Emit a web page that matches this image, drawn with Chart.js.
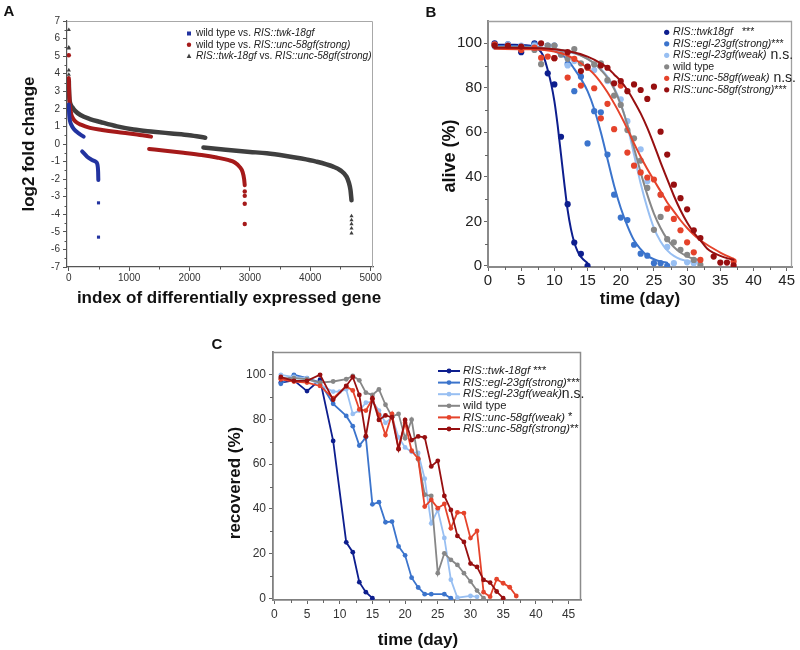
<!DOCTYPE html>
<html><head><meta charset="utf-8">
<script src="https://cdn.jsdelivr.net/npm/chart.js@4.4.1/dist/chart.umd.min.js"></script>
<style>
html,body{margin:0;padding:0;background:#fff;}
#wrap{position:relative;width:800px;height:650px;overflow:hidden;background:#fff;}
canvas{position:absolute;}
</style></head><body>
<div id="wrap">
<canvas id="cA" width="400" height="320" style="left:0;top:0"></canvas>
<canvas id="cB" width="400" height="320" style="left:400px;top:0"></canvas>
<canvas id="cC" width="400" height="330" style="left:200px;top:320px"></canvas>
</div>
<script>
// ---------------- Panel A data ----------------
const aXTicks = [0, 1000, 2000, 3000, 4000, 5000];
const aXMinor = [500, 1500, 2500, 3500, 4500];
const aYTicks = [-7,-6,-5,-4,-3,-2,-1,0,1,2,3,4,5,6,7];
const aYMinor = [-6.5,-5.5,-4.5,-3.5,-2.5,-1.5,-0.5,0.5,1.5,2.5,3.5,4.5,5.5,6.5];

const aBlueHiX = [0, 3, 8, 20, 40, 83, 165, 245];
const aBlueHiY = [2.25, 1.9, 1.6, 1.3, 1.1, 0.85, 0.6, 0.42];
const aBlueLoX = [221, 304, 387, 450, 470, 480, 486, 489];
const aBlueLoY = [-0.42, -0.72, -0.91, -1.02, -1.12, -1.3, -1.6, -2.05];
const aBlueOutX = [492, 492];
const aBlueOutY = [-3.35, -5.3];

const aRedHiX = [0, 3, 8, 15, 25, 40, 70, 120, 200, 350, 550, 800, 1100, 1362];
const aRedHiY = [3.75, 3.3, 2.8, 2.3, 2.0, 1.7, 1.45, 1.25, 1.1, 0.92, 0.8, 0.68, 0.56, 0.42];
const aRedLoX = [1330, 1600, 1900, 2200, 2450, 2650, 2750, 2830, 2880, 2905, 2915];
const aRedLoY = [-0.28, -0.38, -0.5, -0.63, -0.77, -0.92, -1.05, -1.3, -1.6, -2.0, -2.35];
const aRedOutX = [0, 2915, 2915, 2915, 2915];
const aRedOutY = [5.05, -2.7, -2.95, -3.4, -4.55];

const aGrayHiX = [0, 3, 8, 15, 30, 56, 100, 193, 350, 524, 800, 1074, 1400, 1700, 2000, 2260];
const aGrayHiY = [3.6, 3.1, 2.7, 2.45, 2.25, 2.1, 1.9, 1.65, 1.42, 1.25, 1.0, 0.82, 0.7, 0.6, 0.5, 0.36];
const aGrayLoX = [2231, 2600, 3000, 3279, 3600, 3830, 4100, 4380, 4500, 4601, 4640, 4667, 4684];
const aGrayLoY = [-0.2, -0.33, -0.45, -0.53, -0.68, -0.81, -1.0, -1.29, -1.5, -1.86, -2.2, -2.62, -3.2];
const aGrayOutX = [0, 0, 0, 0, 0, 4684, 4684, 4684, 4684, 4684];
const aGrayOutY = [6.5, 5.5, 5.45, 4.2, 3.95, -4.1, -4.33, -4.55, -4.8, -5.08];

// ---------------- Panel B data ----------------
const bXTicks = [0,5,10,15,20,25,30,35,40,45];
const bXMinor = [2.5,7.5,12.5,17.5,22.5,27.5,32.5,37.5,42.5];
const bYTicks = [0,20,40,60,80,100];
const bYMinor = [10,30,50,70,90];

const bNavyD = [1,3,5,7,9,10,11,12,13,14,15];
const bNavyV = [100,99.5,96,100,86.5,81.5,58,27.7,10.5,5.4,0];
const bSteelD = [1,3,5,7,9,10,11,12,13,14,15,16,17,18,19,20,21,22,23,24,25,26,27];
const bSteelV = [99.5,99,98.5,99.5,99,99,95,90.7,78.5,85,55,69.5,69,50,32,21.7,20.6,9.5,5.5,4.6,1.2,1.2,0];
const bLightD = [1,3,5,7,9,10,12,13,15,16,18,20,21,23,24,26,27,28,30,31];
const bLightV = [98.5,99.5,99,99,98,99,90,92,89.5,88,83,74.8,65,52.4,38,32,8.5,1.2,1.6,1.2];
const bGrayD = [1,3,5,7,8,9,10,11,12,13,14,15,16,17,18,19,20,21,22,23,24,25,26,27,28,29,30,31,32];
const bGrayV = [99,98.5,98,97,90.6,99,99,95,93,97.4,91,89,90.5,91,83.5,76.5,72.3,61,57.3,47.3,35,16.2,22,12,10.6,7.2,5,2.7,0.5];
const bRedD = [1,3,5,7,8,9,10,12,13,14,15,16,17,18,19,20,21,22,23,24,25,26,27,28,29,30,31,32,37];
const bRedV = [99.5,98.5,97,98,93.5,94,93.3,84.6,93,81,89,79.8,66.3,72.8,61.4,81,50.9,45,42,39.7,38.8,32,25.7,21.1,16,10.6,6.1,2.7,2];
const bDarkD = [1,3,5,8,10,12,14,15,17,18,19,20,21,22,23,24,25,26,27,28,29,30,31,32,34,35,36,37];
const bDarkV = [99,99,98.5,100,93.3,96,87.5,89.5,90,89,82,83,78.5,81.5,79,75,80.5,60.3,50,36.5,30.4,25.4,16,12.5,4.2,1.5,1.5,0.2];

const bNavyFitD = [1,4,7,8,8.5,9,9.5,10,10.5,11,11.5,12,12.5,13,13.5,14,15];
const bNavyFitV = [99.3,99.3,98.5,96,93,88,82,74,63,50,37,25,16.5,10.5,6.5,4,1.2];
const bSteelFitD = [1,6,9,11,12,13,14,15,16,17,18,19,20,21,22,23,24,25,26,27];
const bSteelFitV = [98.8,98.5,97.5,95,92.5,88.5,84,78.5,70.5,60,48,36,26,18,11.5,7.5,4.5,3,2,1.4];
const bLightFitD = [1,8,12,14,16,17,18,19,20,21,22,23,24,25,26,27,28,29,30,31,32];
const bLightFitV = [97.5,97.3,96,94.5,91,88.5,85,80,73,63,50,37,26,17,11,7,4.5,3,2.2,1.7,1.4];
const bGrayFitD = [1,8,12,14,16,17,18,19,20,21,22,23,24,25,26,27,28,29,30,31,32];
const bGrayFitV = [98.3,98,96.5,94.5,91,88,84.5,79.5,72.5,63.5,53,42,32,23.5,17,12,8.5,6,4.3,3.2,2.5];
const bRedFitD = [1,6,10,12,14,16,18,19,20,21,22,23,24,25,26,27,28,29,30,31,32,33,34,35,36,37];
const bRedFitV = [97.5,97.3,96.3,94.5,91,86,78,73,67.5,61.5,55,49,43.5,38.5,33.5,28.5,24.5,20.5,17,14,11.5,9.5,7.7,6,4.5,3.2];
const bDarkFitD = [1,8,12,15,17,18,19,20,21,22,23,24,25,26,27,28,29,30,31,32,33,34,35,36,37];
const bDarkFitV = [98,97.8,96.5,94,91,89,86,83,79,74,68.5,62,54.5,46.5,39,31.5,25,19.5,15,11.5,7.8,5.8,4.5,3.5,2.8];

// ---------------- Panel C data ----------------
const cNavyD = [1,3,5,7,9,11,12,13,14,15];
const cNavyV = [96.5,97.5,92.7,97.8,70.4,25,20.6,7.2,2.7,0];
const cSteelD = [1,3,5,7,9,11,12,13,14,15,16,17,18,19,20,21,22,23,24,26,27];
const cSteelV = [96,100,98.5,96.5,87,81.6,77,68.3,72,42,43,34,34.3,23.2,19.2,9.2,4.8,1.8,1.8,1.8,0];
const cLightD = [1,3,5,7,9,10,11,12,13,14,15,16,17,18,19,20,21,22,23,24,25,26,27,28,30,31];
const cLightV = [100,99,98.5,95.5,92.5,92.5,93.5,82.5,84,87.5,88,84,78.5,81,72,67.5,65.5,65,53.5,33.5,39.5,27,8.3,0.2,1,0.6];
const cGrayD = [1,3,5,7,9,11,12,13,14,15,16,17,18,19,20,21,22,23,24,25,26,27,28,29,30,31,32];
const cGrayV = [98.5,98.5,98,96.5,97,98,99.5,97.5,92,91,93.5,86.6,81.3,82.5,71.6,79.9,62.2,46.3,45.8,11.2,20.1,17.2,14.9,11.2,7.5,3.4,0];
const cRedD = [1,3,5,7,9,11,12,13,14,15,16,17,18,19,20,21,22,23,24,25,26,27,28,29,30,31,32,33,34,35,36,37];
const cRedV = [98,97,96.5,95,89.5,94.8,93,84.5,84,89,82,73,82.5,67,78.5,66,62.5,41,44,40.3,42.2,31.3,38.4,38.1,26.9,30.1,2.7,0.7,8.5,6.7,4.9,1];
const cDarkD = [1,3,5,7,9,11,12,13,14,15,16,17,18,19,20,21,22,23,24,25,26,27,28,29,30,31,32,33,34,35];
const cDarkV = [99,97.3,97.3,100,88.8,95,99,91,72.5,89.5,79.8,81.8,81,66.7,79.8,70.8,72.4,72,59,61.5,45.8,39.5,27.9,25.2,15.5,14,8.2,7,3,0];

// ---------------- styles ----------------
const FF = '"Liberation Sans", Arial, Helvetica, sans-serif';
Chart.defaults.font.family = FF;
const COL = {navy:'#0d1e8e', steel:'#3b74cc', light:'#98bff2', gray:'#878787', red:'#e5432b', dark:'#970f10'};
const ACOL = {blue:'#2233a0', red:'#a51a1a', gray:'#3f3f3f'};

const pts = (xs, ys) => xs.map((x, i) => ({x: x, y: ys[i]}));
const fixTicks = arr => (s => { s.ticks = arr.map(v => ({value: v})); });

const deco = {
  id: 'deco',
  afterDraw(chart, args, o) {
    const ctx = chart.ctx, a = chart.chartArea;
    ctx.save();
    if (o.frame) {
      ctx.strokeStyle = o.frame.color; ctx.lineWidth = o.frame.width;
      ctx.beginPath(); ctx.moveTo(a.left, a.top + 0.5); ctx.lineTo(a.right - 0.5, a.top + 0.5); ctx.lineTo(a.right - 0.5, a.bottom); ctx.stroke();
    }
    (o.minor || []).forEach(m => {
      const s = chart.scales[m.axis];
      ctx.strokeStyle = m.color; ctx.lineWidth = 1;
      m.values.forEach(v => {
        const p = Math.round(s.getPixelForValue(v)) + 0.5;
        ctx.beginPath();
        if (s.isHorizontal()) { ctx.moveTo(p, a.bottom); ctx.lineTo(p, a.bottom + m.len); }
        else { ctx.moveTo(a.left, p); ctx.lineTo(a.left - m.len, p); }
        ctx.stroke();
      });
    });
    (o.texts || []).forEach(t => {
      ctx.save(); ctx.translate(t.x, t.y); if (t.rot) ctx.rotate(t.rot);
      ctx.font = t.font; ctx.fillStyle = t.color || '#111';
      ctx.textAlign = 'center'; ctx.textBaseline = 'middle';
      ctx.fillText(t.t, 0, 0); ctx.restore();
    });
    if (o.legend) {
      const L = o.legend;
      L.items.forEach((it, i) => {
        const y = L.y + i * L.dy;
        ctx.fillStyle = it.color; ctx.strokeStyle = it.color;
        if (it.marker === 'rect') { ctx.fillRect(L.mx - 2, y - 2, 4, 4); }
        else if (it.marker === 'circle') { ctx.beginPath(); ctx.arc(L.mx, y, L.r || 2.2, 0, Math.PI * 2); ctx.fill(); }
        else if (it.marker === 'triangle') { ctx.beginPath(); ctx.moveTo(L.mx, y - 2.5); ctx.lineTo(L.mx + 2.3, y + 1.8); ctx.lineTo(L.mx - 2.3, y + 1.8); ctx.closePath(); ctx.fill(); }
        else if (it.marker === 'line') {
          ctx.lineWidth = 2; ctx.beginPath(); ctx.moveTo(L.lx0, y); ctx.lineTo(L.lx1, y); ctx.stroke();
          ctx.beginPath(); ctx.arc((L.lx0 + L.lx1) / 2, y, 2.4, 0, Math.PI * 2); ctx.fill();
        }
        let x = L.tx;
        ctx.textAlign = 'left'; ctx.textBaseline = 'middle';
        it.parts.forEach(p => {
          ctx.font = p.f; ctx.fillStyle = L.color || '#222';
          ctx.fillText(p.t, x, y + (p.dy || 0));
          x += ctx.measureText(p.t).width;
        });
      });
    }
    ctx.restore();
  }
};
Chart.register(deco);

function axisX(opt) {
  return Object.assign({
    type: 'linear',
    afterFit: s => { s.height = opt.h; },
    afterBuildTicks: fixTicks(opt.ticks),
    border: {display: true, color: opt.bc, width: opt.bw},
    grid: {display: true, drawOnChartArea: false, drawTicks: true, tickLength: opt.tl, tickColor: opt.tc, tickWidth: 1},
    ticks: {font: {size: opt.fs}, color: opt.fc, padding: opt.pad, maxRotation: 0, autoSkip: false, callback: v => String(v)}
  }, {min: opt.min, max: opt.max});
}
function axisY(opt) {
  return Object.assign(axisX(opt), {
    afterFit: s => { s.width = opt.w; }
  });
}

// ---------------- Chart A ----------------
function lineDS(data, color, w) {
  return {data: data, showLine: true, borderColor: color, borderWidth: w, pointRadius: 0,
    cubicInterpolationMode: 'monotone', borderCapStyle: 'round', borderJoinStyle: 'round', fill: false};
}
function dotDS(data, color, style, r) {
  return {data: data, showLine: false, pointStyle: style, pointRadius: r, backgroundColor: color, borderColor: color, borderWidth: 0};
}
const fA = '10.1px ' + FF, fAi = 'italic 10.1px ' + FF;
new Chart(document.getElementById('cA'), {
  type: 'scatter',
  data: {datasets: [
    lineDS(pts(aBlueHiX, aBlueHiY), ACOL.blue, 4), lineDS(pts(aBlueLoX, aBlueLoY), ACOL.blue, 4), dotDS(pts(aBlueOutX, aBlueOutY), ACOL.blue, 'rect', 2.2),
    lineDS(pts(aRedHiX, aRedHiY), ACOL.red, 4), lineDS(pts(aRedLoX, aRedLoY), ACOL.red, 4), dotDS(pts(aRedOutX, aRedOutY), ACOL.red, 'circle', 2.2),
    lineDS(pts(aGrayHiX, aGrayHiY), ACOL.gray, 4.5), lineDS(pts(aGrayLoX, aGrayLoY), ACOL.gray, 4.5), dotDS(pts(aGrayOutX, aGrayOutY), ACOL.gray, 'triangle', 2.4)
  ]},
  options: {
    responsive: false, animation: false, events: [],
    layout: {padding: {top: 21, right: 27, left: 0, bottom: 0}},
    plugins: {legend: {display: false}, tooltip: {enabled: false},
      deco: {
        frame: {color: '#a8a8a8', width: 1},
        minor: [{axis: 'x', values: aXMinor, len: 2.5, color: '#555'}, {axis: 'y', values: aYMinor, len: 2.5, color: '#555'}],
        texts: [
          {t: 'A', x: 9, y: 12, font: 'bold 15px ' + FF},
          {t: 'log2 fold change', x: 29, y: 144, rot: -Math.PI / 2, font: 'bold 17px ' + FF},
          {t: 'index of differentially expressed gene', x: 229, y: 298, font: 'bold 17px ' + FF}
        ],
        legend: {mx: 189, tx: 196, y: 33.5, dy: 11.3, color: '#222', items: [
          {marker: 'rect', color: ACOL.blue, parts: [{t: 'wild type vs. ', f: fA}, {t: 'RIS::twk-18gf', f: fAi}]},
          {marker: 'circle', color: ACOL.red, parts: [{t: 'wild type vs. ', f: fA}, {t: 'RIS::unc-58gf(strong)', f: fAi}]},
          {marker: 'triangle', color: ACOL.gray, parts: [{t: 'RIS::twk-18gf', f: fAi}, {t: ' vs. ', f: fA}, {t: 'RIS::unc-58gf(strong)', f: fAi}]}
        ]}
      }
    },
    scales: {
      x: axisX({min: -30, max: 5040, h: 53, ticks: aXTicks, bc: '#555', bw: 1.2, tl: 4, tc: '#555', fs: 10, fc: '#333', pad: 1}),
      y: axisY({min: -7, max: 7, w: 67, ticks: aYTicks, bc: '#555', bw: 1.2, tl: 4, tc: '#555', fs: 10, fc: '#333', pad: 3})
    }
  }
});

// ---------------- Chart B ----------------
const fB = '10.6px ' + FF, fBi = 'italic 10.6px ' + FF, fBns = '14px ' + FF;
const bSeries = [
  ['dark', bDarkD, bDarkV, bDarkFitD, bDarkFitV],
  ['red', bRedD, bRedV, bRedFitD, bRedFitV],
  ['gray', bGrayD, bGrayV, bGrayFitD, bGrayFitV],
  ['light', bLightD, bLightV, bLightFitD, bLightFitV],
  ['steel', bSteelD, bSteelV, bSteelFitD, bSteelFitV],
  ['navy', bNavyD, bNavyV, bNavyFitD, bNavyFitV]
];
const bDatasets = [];
bSeries.forEach(s => {
  bDatasets.push(dotDS(pts(s[1], s[2]), COL[s[0]], 'circle', 3.1));
  bDatasets.push(lineDS(pts(s[3], s[4]), COL[s[0]], 2));
});
new Chart(document.getElementById('cB'), {
  type: 'scatter',
  data: {datasets: bDatasets},
  options: {
    responsive: false, animation: false, events: [],
    layout: {padding: {top: 21, right: 8, left: 0, bottom: 0}},
    plugins: {legend: {display: false}, tooltip: {enabled: false},
      deco: {
        frame: {color: '#a0a0a0', width: 1.3},
        minor: [{axis: 'x', values: bXMinor, len: 3, color: '#666'}, {axis: 'y', values: bYMinor, len: 3, color: '#666'}],
        texts: [
          {t: 'B', x: 31, y: 13, font: 'bold 15px ' + FF},
          {t: 'alive (%)', x: 50, y: 156, rot: -Math.PI / 2, font: 'bold 18px ' + FF},
          {t: 'time (day)', x: 240, y: 299, font: 'bold 17px ' + FF}
        ],
        legend: {mx: 266.7, r: 2.6, tx: 273, y: 32.3, dy: 11.5, color: '#222', items: [
          {marker: 'circle', color: COL.navy, parts: [{t: 'RIS::twk18gf', f: fBi}, {t: '   ***', f: fB}]},
          {marker: 'circle', color: COL.steel, parts: [{t: 'RIS::egl-23gf(strong)', f: fBi}, {t: '***', f: fB}]},
          {marker: 'circle', color: COL.light, parts: [{t: 'RIS::egl-23gf(weak)', f: fBi}, {t: ' n.s.', f: fBns}]},
          {marker: 'circle', color: COL.gray, parts: [{t: 'wild type', f: fB}]},
          {marker: 'circle', color: COL.red, parts: [{t: 'RIS::unc-58gf(weak)', f: fBi}, {t: ' n.s.', f: fBns}]},
          {marker: 'circle', color: COL.dark, parts: [{t: 'RIS::unc-58gf(strong)', f: fBi}, {t: '***', f: fB}]}
        ]}
      }
    },
    scales: {
      x: axisX({min: 0, max: 45.8, h: 53, ticks: bXTicks, bc: '#8a8a8a', bw: 2, tl: 4, tc: '#666', fs: 15, fc: '#222', pad: 1}),
      y: axisY({min: -0.5, max: 110, w: 88, ticks: bYTicks, bc: '#8a8a8a', bw: 2, tl: 4, tc: '#666', fs: 15, fc: '#222', pad: 2})
    }
  }
});

// ---------------- Chart C ----------------
const fC = '11.2px ' + FF, fCi = 'italic 11.2px ' + FF, fCns = '14px ' + FF;
const cSeries = [
  ['dark', cDarkD, cDarkV], ['red', cRedD, cRedV], ['gray', cGrayD, cGrayV],
  ['light', cLightD, cLightV], ['steel', cSteelD, cSteelV], ['navy', cNavyD, cNavyV]
];
new Chart(document.getElementById('cC'), {
  type: 'scatter',
  data: {datasets: cSeries.map(s => ({
    data: pts(s[1], s[2]), showLine: true, borderColor: COL[s[0]], backgroundColor: COL[s[0]],
    borderWidth: 1.8, pointRadius: 2.4, pointBorderWidth: 0, tension: 0, fill: false
  }))},
  options: {
    responsive: false, animation: false, events: [],
    layout: {padding: {top: 32, right: 19, left: 0, bottom: 0}},
    plugins: {legend: {display: false}, tooltip: {enabled: false},
      deco: {
        frame: {color: '#8c8c8c', width: 1.5},
        minor: [{axis: 'x', values: bXMinor, len: 3, color: '#666'}, {axis: 'y', values: bYMinor, len: 3, color: '#666'}],
        texts: [
          {t: 'C', x: 17, y: 25, font: 'bold 15px ' + FF},
          {t: 'recovered (%)', x: 35, y: 163, rot: -Math.PI / 2, font: 'bold 17px ' + FF},
          {t: 'time (day)', x: 218, y: 320, font: 'bold 17px ' + FF}
        ],
        legend: {lx0: 238, lx1: 260, tx: 263, y: 51, dy: 11.6, color: '#222', items: [
          {marker: 'line', color: COL.navy, parts: [{t: 'RIS::twk-18gf', f: fCi}, {t: ' ***', f: fC}]},
          {marker: 'line', color: COL.steel, parts: [{t: 'RIS::egl-23gf(strong)', f: fCi}, {t: '***', f: fC}]},
          {marker: 'line', color: COL.light, parts: [{t: 'RIS::egl-23gf(weak)', f: fCi}, {t: 'n.s.', f: fCns}]},
          {marker: 'line', color: COL.gray, parts: [{t: 'wild type', f: fC}]},
          {marker: 'line', color: COL.red, parts: [{t: 'RIS::unc-58gf(weak)', f: fCi}, {t: ' *', f: fC}]},
          {marker: 'line', color: COL.dark, parts: [{t: 'RIS::unc-58gf(strong)', f: fCi}, {t: '**', f: fC}]}
        ]}
      }
    },
    scales: {
      x: axisX({min: -0.2, max: 46.9, h: 50, ticks: bXTicks, bc: '#808080', bw: 1.8, tl: 4, tc: '#666', fs: 12, fc: '#333', pad: 3}),
      y: axisY({min: -0.8, max: 110.2, w: 73, ticks: bYTicks, bc: '#808080', bw: 1.8, tl: 4, tc: '#666', fs: 12, fc: '#333', pad: 3})
    }
  }
});
</script>
</body></html>
